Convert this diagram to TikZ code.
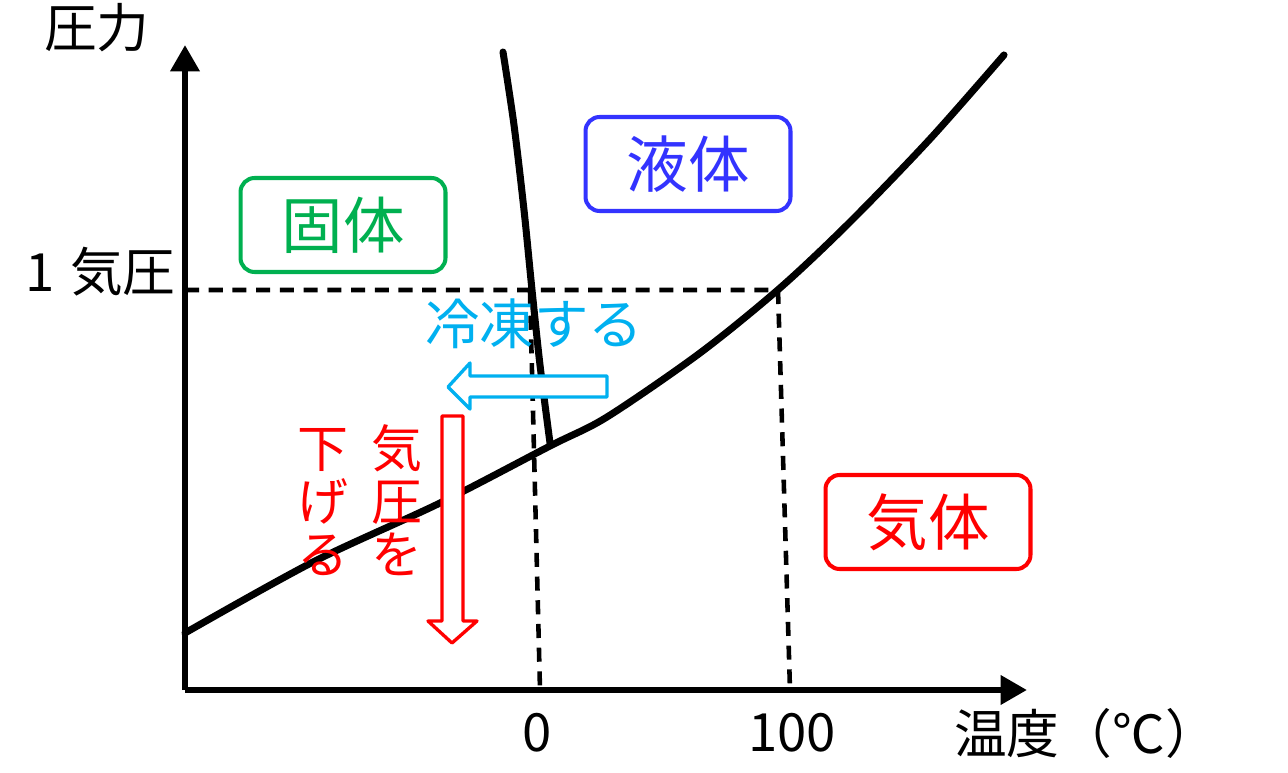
\documentclass[tikz,border=0pt]{standalone}
\usepackage{fontspec}
\setmainfont{Noto Sans CJK JP}
\usetikzlibrary{arrows.meta,positioning,calc}
\definecolor{ink}{HTML}{000000}
\definecolor{green}{HTML}{00B050}
\definecolor{blue}{HTML}{3333FF}
\definecolor{red}{HTML}{FF0000}
\definecolor{cyan}{HTML}{00B0F0}

\begin{document}
\begin{tikzpicture}[x=.02cm,y=-.02cm,line join=round,every node/.style={font=\fontsize{30}{34}\selectfont,text=ink,inner sep=0pt},axis/.style={line width=3.6pt,-{Triangle[length=15pt,width=16pt]}},curve/.style={line width=4pt,line cap=round},guide/.style={line width=2.6pt,dash pattern=on 8pt off 5.5pt},phase/.style={draw,rounded corners=8pt,line width=2.3pt,minimum width=4.1cm,minimum height=1.88cm,font=\fontsize{35}{38}\selectfont},hollow/.style={line width=1.9pt,fill=white}]
\path[use as bounding box] (0,0) rectangle (1288,773);

\coordinate (o) at (185,690);
\coordinate (ytip) at (185,45);
\coordinate (xtip) at (1027,690);
\coordinate (atm) at (185,290);
\coordinate (boil) at (778,290);
\coordinate (boilb) at (790,690);
\coordinate (frz) at (530,292);
\coordinate (frzb) at (540,690);

% guides
\draw[guide] (atm)--(boil)--(boilb);
\draw[guide] (frz)--(frzb);

% axes
\draw[axis] (o)--(ytip);
\draw[axis] (o)--(xtip);
\node (pres) at (97,28) {圧力};
\node[anchor=east] (oneatm) at (176,272) {1\hspace{.3em}気圧};
\node (zero) at (537,733) {0};
\node (hund) at (792,733) {100};
\node (temp) at (1086,733) {温度（℃）};

% phase boundaries
\draw[curve] plot[smooth] coordinates {(503,52) (514,125) (524,210) (532,290) (540,365) (550,443)};
\draw[curve] plot[smooth,tension=.5] coordinates {(185,633) (313,562) (440,503) (550,446) (607,417) (700,353) (780,288) (850,222) (930,139) (1004,55)};

% regions
\node[phase,draw=green,text=green] (solid) at (343,225) {固体};
\node[phase,draw=blue,text=blue] (liquid) at (688,164) {液体};
\node[phase,draw=red,text=red] (gas) at (928,522) {気体};

% freezing
\node[text=cyan,font=\fontsize{31}{34}\selectfont] (freeze) at (534,324) {冷凍する};
\draw[hollow,draw=cyan] (607,376)--(470,376)--(470,363)--(448,387)--(470,409)--(470,397)--(607,397)--cycle;

% lowering pressure
\draw[hollow,draw=red] (442,416)--(463,416)--(463,621)--(477,621)--(452,643)--(428,621)--(442,621)--cycle;
\node[text=red,align=center,font=\fontsize{29}{30}\selectfont] (lower1) at (397,500) {気\\圧\\を};
\node[text=red,align=center,font=\fontsize{29}{30}\selectfont] (lower2) at (323,502) {下\\げ\\る};

\end{tikzpicture}
\end{document}
